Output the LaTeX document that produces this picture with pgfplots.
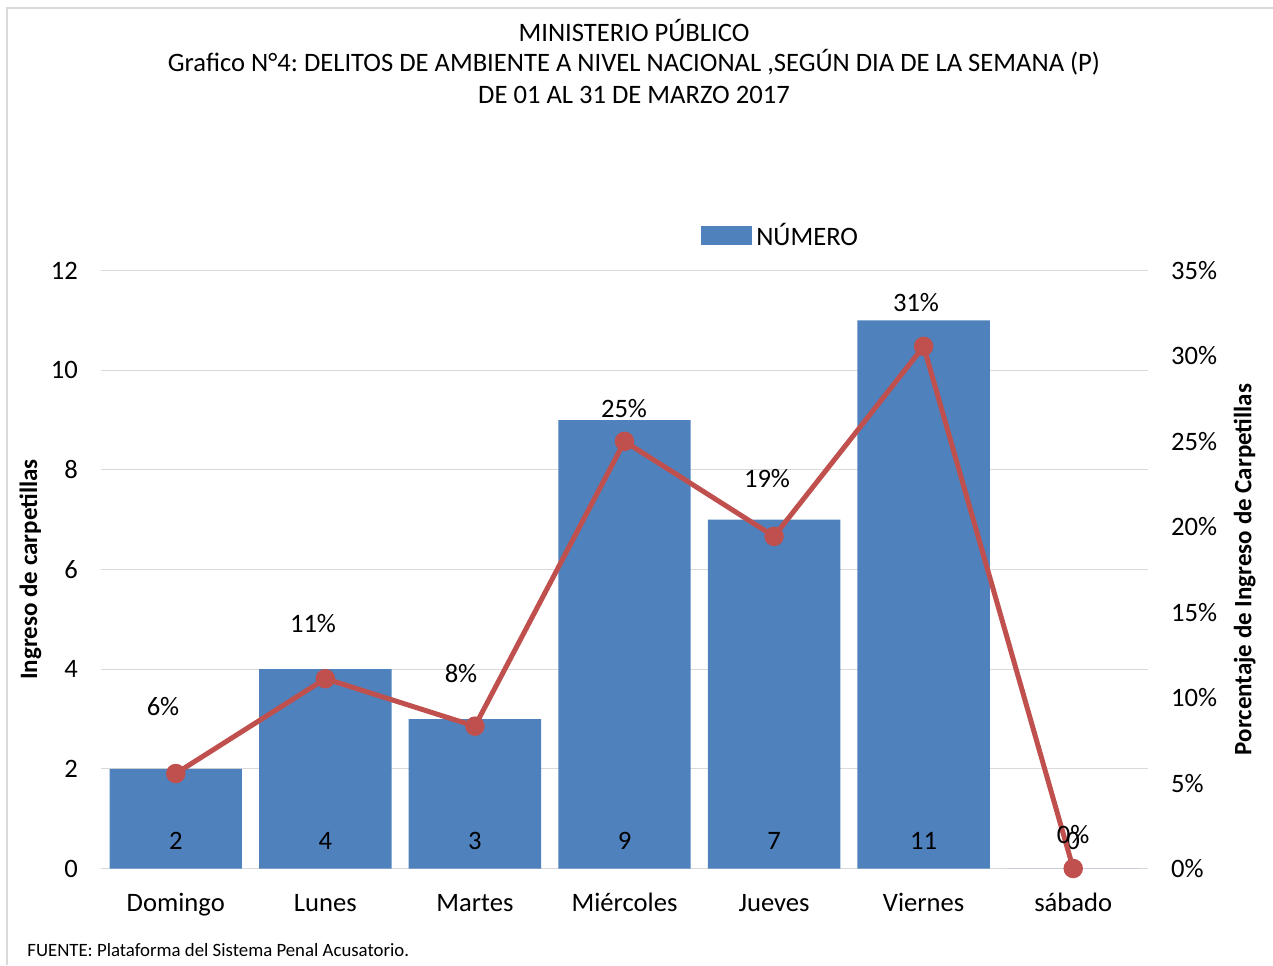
\documentclass[border=0pt]{standalone}
\usepackage{pgfplots}
\pgfplotsset{compat=1.18}
\usepackage{fontspec}
\setmainfont{Carlito}
\frenchspacing
\definecolor{barblue}{HTML}{4F81BD}
\definecolor{linered}{HTML}{C0504D}
\definecolor{gridgray}{HTML}{D9D9D9}
\pgfplotstableread{
x n ly
0 2 0.55
1 4 0.55
2 3 0.55
3 9 0.55
4 7 0.55
5 11 0.55
6 0 0.55
}\bars
\pgfplotstableread{
x p
0 5.56
1 11.11
2 8.33
3 25.00
4 19.44
5 30.56
6 0
}\pct
\begin{document}
\begin{tikzpicture}
\useasboundingbox (0pt,0pt) rectangle (636.5pt,482.5pt);
\draw[gridgray,line width=1.2pt] (3.5pt,0pt) -- (3.5pt,478.5pt) -- (636.5pt,478.5pt);
\begin{axis}[
  at={(50.5pt,48.25pt)}, anchor=south west,
  scale only axis, width=523.5pt, height=299pt,
  font=\fontsize{13.3}{16}\selectfont,
  xmin=-0.5, xmax=6.5, ymin=0, ymax=12,
  ytick={0,2,...,12},
  xtick={0,...,6},
  xticklabels={Domingo,Lunes,Martes,Miércoles,Jueves,Viernes,sábado},
  axis line style={draw=none},
  major tick length=0pt,
  ymajorgrids, grid style={gridgray,line width=0.6pt},
  yticklabel style={xshift=-8pt},
  xticklabel style={anchor=base, yshift=-21.5pt},
  ylabel={\bfseries Ingreso de carpetillas},
  ylabel style={font=\fontsize{12.5}{15}\selectfont, yshift=-2pt},
  legend style={at={(0.65,1.0585)},anchor=center,draw=none,fill=none,font=\fontsize{13.3}{16}\selectfont},
  legend image code/.code={\fill[barblue] (0cm,-0.17cm) rectangle (0.9cm,0.17cm);},
  /pgf/number format/assume math mode=true,
  clip=false,
]
\draw[gridgray,line width=0.8pt] (axis cs:-0.5,0) -- (axis cs:6.5,0);
\addplot[ybar, bar width=0.885, fill=barblue, draw=none, bar shift=0pt]
  table[x=x,y=n]{\bars};
\addlegendentry{NÚMERO}
\addplot[draw=none, mark=none, forget plot,
  nodes near coords, point meta=explicit symbolic,
  nodes near coords style={anchor=center, black, font=\fontsize{13.3}{16}\selectfont}]
  table[x=x,y=ly,meta=n]{\bars};
\end{axis}
\begin{axis}[
  at={(50.5pt,48.25pt)}, anchor=south west,
  scale only axis, width=523.5pt, height=299pt,
  font=\fontsize{13.3}{16}\selectfont,
  xmin=-0.5, xmax=6.5, ymin=0, ymax=35,
  axis y line*=right, axis x line=none,
  axis line style={draw=none},
  major tick length=0pt,
  ytick={0,5,...,35},
  yticklabel={\pgfmathprintnumber{\tick}\%},
  yticklabel style={xshift=8pt},
  ylabel={\bfseries Porcentaje de Ingreso de Carpetillas},
  ylabel style={font=\fontsize{12.5}{15}\selectfont, yshift=-1.5pt},
  /pgf/number format/assume math mode=true,
  clip=false,
]
\addplot[linered, line width=2.5pt, mark=*, mark size=3.6pt, mark options={fill=linered,draw=linered}]
  table[x=x,y=p]{\pct};
\end{axis}
\begin{scope}[font=\fontsize{13.3}{16}\selectfont]
\node at (317pt,467.5pt) {MINISTERIO PÚBLICO};
\node at (317pt,451.5pt) {Grafico N°4: DELITOS DE AMBIENTE A NIVEL NACIONAL ,SEGÚN DIA DE LA SEMANA (P)};
\node at (317pt,435pt) {DE 01 AL 31 DE MARZO 2017};
\node at (81.5pt,129pt) {6\%};
\node at (156.5pt,170.5pt) {11\%};
\node at (230.5pt,145.5pt) {8\%};
\node at (312pt,278pt) {25\%};
\node at (383.5pt,243pt) {19\%};
\node at (458pt,331pt) {31\%};
\node at (536.5pt,65pt) {0\%};
\end{scope}
\node[font=\fontsize{9.4}{11}\selectfont, anchor=west, inner sep=0pt] at (13.5pt,7.5pt) {FUENTE: Plataforma del Sistema Penal Acusatorio.};
\end{tikzpicture}
\end{document}
